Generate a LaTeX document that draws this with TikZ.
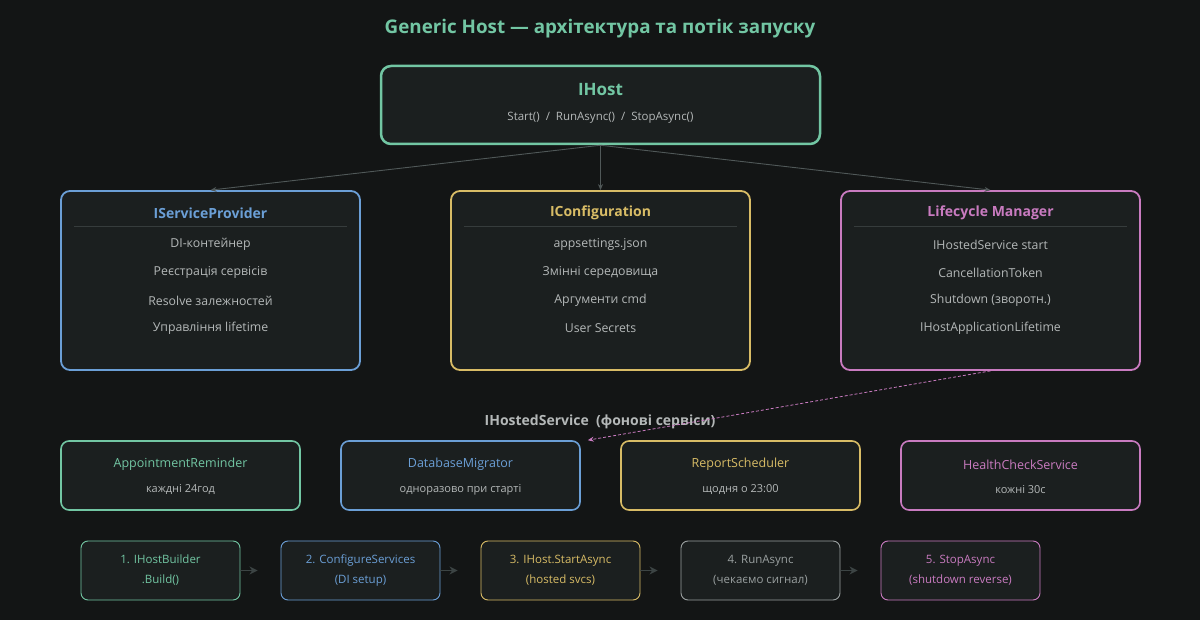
\documentclass[tikz,border=0pt]{standalone}
\usepackage{fontspec}
\setmainfont{Open Sans}
\usetikzlibrary{arrows.meta}

\definecolor{bg}{HTML}{131515}
\definecolor{boxbg}{HTML}{1B1F1F}
\definecolor{hgreen}{HTML}{72C6A3}
\definecolor{hblue}{HTML}{6B9FD6}
\definecolor{hyellow}{HTML}{D8BC66}
\definecolor{hpink}{HTML}{C97BC0}
\definecolor{hgrey}{HTML}{9AA0A0}
\definecolor{txt}{HTML}{B4B8B8}
\definecolor{sepline}{HTML}{363C3C}
\definecolor{conn}{HTML}{505858}
\definecolor{stepconn}{HTML}{3C4444}

\begin{document}
\begin{tikzpicture}[x=1pt, y=-1pt,
    hostbox/.style={draw=hgreen, line width=2.5pt, fill=boxbg, rounded corners=10pt, minimum width=439pt, minimum height=78pt, inner sep=0pt},
    bigbox/.style={draw=#1, line width=1.8pt, fill=boxbg, rounded corners=9pt, minimum width=299pt, minimum height=179pt, inner sep=0pt},
    bigtitle/.style={text=#1, font=\fontsize{14}{16}\selectfont\bfseries, inner sep=0pt},
    item/.style={text=txt, font=\fontsize{12.3}{14}\selectfont, inner sep=0pt},
    svcbox/.style={draw=#1, line width=1.6pt, fill=boxbg, rounded corners=8pt, minimum width=239pt, minimum height=69pt, inner sep=0pt},
    svcname/.style={text=#1, font=\fontsize{12.5}{14}\selectfont, inner sep=0pt},
    svcnote/.style={text=txt, font=\fontsize{11}{13}\selectfont, inner sep=0pt},
    stepbox/.style={draw=#1, text=#1, line width=0.9pt, fill=boxbg, rounded corners=7pt, minimum width=159pt, minimum height=59pt, inner sep=0pt, align=center, font=\fontsize{11.5}{20}\selectfont},
    link/.style={draw=conn, line width=0.9pt, -{Stealth[length=6pt, width=5pt]}},
    steplink/.style={draw=stepconn, line width=1.4pt, -{Stealth[length=8pt, width=8pt]}, shorten >=23pt}]

    \fill[bg] (0,0) rectangle (1200,620);
    \useasboundingbox (0,0) rectangle (1200,620);

    \node[text=hgreen, font=\fontsize{18.8}{22}\selectfont\bfseries] (title) at (600,29) {Generic Host — архітектура та потік запуску};

    % host
    \node[hostbox] (host) at (600.5,105) {};
    \node[text=hgreen, font=\fontsize{17}{20}\selectfont\bfseries, inner sep=0pt] (host-name) at (600.5,89.5) {IHost};
    \node[item, font=\fontsize{11.5}{14}\selectfont] (host-api) at (600.5,117.5) {Start() \ / \ RunAsync() \ / \ StopAsync()};

    % three main parts
    \node[bigbox=hblue] (sp) at (210.5,280.5) {};
    \node[bigtitle=hblue] (sp-title) at (210.5,213) {IServiceProvider};
    \draw[sepline] (74,226) -- (347,226);
    \foreach \t [count=\i] in {DI-контейнер, Реєстрація сервісів, Resolve залежностей, Управління lifetime}
        \node[item] (sp-\i) at (210.5,{216.5+28*\i}) {\t};

    \node[bigbox=hyellow] (cfg) at (600.5,280.5) {};
    \node[bigtitle=hyellow] (cfg-title) at (600.5,213) {IConfiguration};
    \draw[sepline] (464,226) -- (737,226);
    \foreach \t [count=\i] in {appsettings.json, Змінні середовища, Аргументи cmd, User Secrets}
        \node[item] (cfg-\i) at (600.5,{216.5+28*\i}) {\t};

    \node[bigbox=hpink] (lm) at (990.5,280.5) {};
    \node[bigtitle=hpink] (lm-title) at (990.5,213) {Lifecycle Manager};
    \draw[sepline] (854,226) -- (1127,226);
    \foreach \t [count=\i] in {IHostedService start, CancellationToken, Shutdown (зворотн.), IHostApplicationLifetime}
        \node[item] (lm-\i) at (990.5,{216.5+28*\i}) {\t};

    \draw[link] (host.south) -- (sp.north);
    \draw[link] (host.south) -- (cfg.north);
    \draw[link] (host.south) -- (lm.north);

    % hosted services
    \node[text=txt, font=\fontsize{14}{16}\selectfont\bfseries, inner sep=0pt] (hosted) at (600,421.5) {IHostedService \ (фонові сервіси)};
    \foreach \x/\c/\n/\s [count=\i] in {61/hgreen/AppointmentReminder/каждні 24год, 341/hblue/DatabaseMigrator/одноразово при старті, 621/hyellow/ReportScheduler/щодня о 23:00, 901/hpink/HealthCheckService/кожні 30с} {
        \node[svcbox=\c] (svc\i) at (\x+119.5,475.5) {};
        \node[svcname=\c] (svc\i-name) at (\x+119.5,464.5) {\n};
        \node[svcnote] (svc\i-note) at (\x+119.5,489.5) {\s};
    }
    \draw[hpink, line width=0.8pt, dash pattern=on 3pt off 2pt, -{Stealth[length=6pt, width=5pt]}] (lm.south) -- ([xshift=7pt]svc2.north east);

    % startup flow
    \foreach \x/\c/\a/\b [count=\i] in {81/hgreen/1. IHostBuilder/.Build(), 281/hblue/2. ConfigureServices/(DI setup), 481/hyellow/3. IHost.StartAsync/(hosted svcs), 681/hgrey/4. RunAsync/(чекаємо сигнал), 881/hpink/5. StopAsync/(shutdown reverse)}
        \node[stepbox=\c] (step\i) at (\x+79.5,570.5) {\a\\\b};
    \foreach \i/\j in {1/2, 2/3, 3/4, 4/5}
        \draw[steplink] (step\i) -- (step\j);
\end{tikzpicture}
\end{document}
